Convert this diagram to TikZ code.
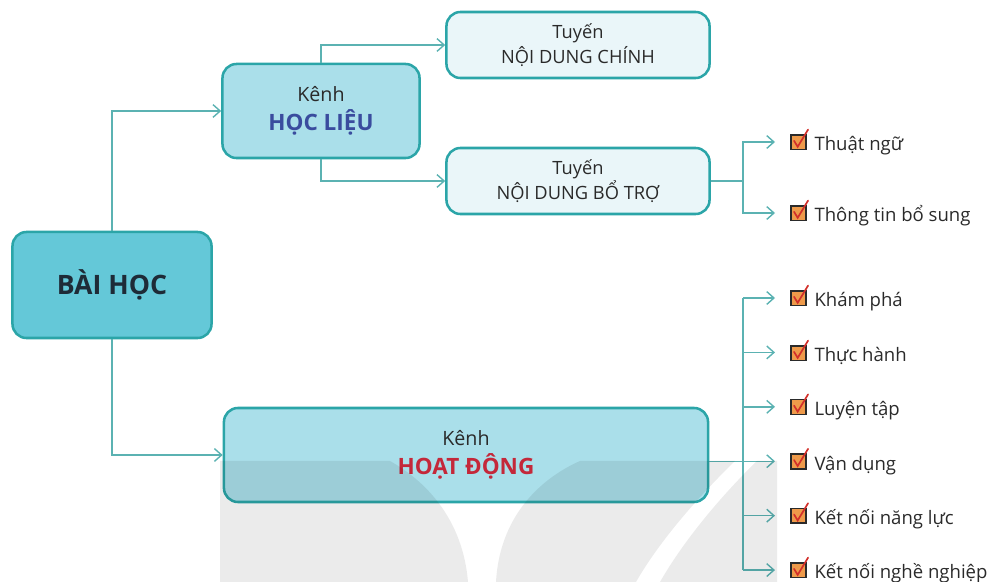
\documentclass[tikz,border=0pt]{standalone}
\usepackage{fontspec}
\setmainfont{Open Sans}
\usetikzlibrary{positioning,arrows.meta}

\definecolor{edgeteal}{HTML}{2BA5A8}
\definecolor{linkteal}{HTML}{5BB2B2}
\definecolor{baifill}{HTML}{64C8D8}
\definecolor{kenhfill}{HTML}{AADFEA}
\definecolor{tuyenfill}{HTML}{EAF6F9}
\definecolor{baitext}{HTML}{1E2B37}
\definecolor{hlblue}{HTML}{3A4C9E}
\definecolor{hdred}{HTML}{C4283A}
\definecolor{textdark}{HTML}{2A2A2A}
\definecolor{boxorange}{HTML}{EE9A4A}
\definecolor{tickred}{HTML}{D22F2A}

\newcommand{\tickbox}{\tikz[x=1cm,y=1cm,baseline=-0.03cm]{%
  \draw[line width=1.1pt, draw=textdark, fill=boxorange] (0,0) rectangle (0.37,0.37);
  \draw[tickred, line width=1.2pt, line cap=round] (0.07,0.22) -- (0.16,0.07) -- (0.42,0.5);}\hspace{4pt}}

\begin{document}
\begin{tikzpicture}[x=0.025cm, y=-0.025cm, node distance=1.36cm,
  box/.style={draw=edgeteal, line width=1.8pt, rounded corners=0.35cm, align=center, text=textdark, inner sep=0pt},
  kenh/.style={box, fill=kenhfill, minimum height=2.35cm, font=\fontsize{14pt}{21pt}\selectfont},
  tuyen/.style={box, fill=tuyenfill, minimum width=6.575cm, minimum height=1.65cm, font=\fontsize{13pt}{18pt}\selectfont},
  item/.style={anchor=west, inner xsep=0.38cm, inner ysep=1pt, text=textdark, font=\fontsize{13.2pt}{16pt}\selectfont},
  link/.style={draw=linkteal, line width=1pt},
  >={Straight Barb[length=1.8mm, width=3.2mm]}]

  \useasboundingbox (0,0) rectangle (1001,582);

  % main boxes
  \node[box, fill=baifill, text=baitext, minimum width=4.975cm, minimum height=2.65cm, font=\fontsize{19pt}{23pt}\selectfont\bfseries] (bai) at (112,285) {BÀI HỌC};
  \node[kenh, minimum width=4.925cm] (hl) at (321,111) {Kênh\\\textcolor{hlblue}{\fontsize{16pt}{21pt}\selectfont\bfseries HỌC LIỆU}};
  \node[kenh, minimum width=12.1cm] (hd) at (466,455) {Kênh\\\textcolor{hdred}{\fontsize{16pt}{21pt}\selectfont\bfseries HOẠT ĐỘNG}};
  \node[tuyen] (chinh) at (578,45) {Tuyến\\NỘI DUNG CHÍNH};
  \node[tuyen] (botro) at (578,181) {Tuyến\\NỘI DUNG BỔ TRỢ};

  % ghost joints
  \coordinate (jb) at (743,181);
  \coordinate (jh) at (743,462);

  % list items
  \node[item] (thuat) at (775,142) {\tickbox Thuật ngữ};
  \node[item] (ttbs) at (775,213) {\tickbox Thông tin bổ sung};
  \node[item] (kp) at (775,298) {\tickbox Khám phá};
  \node[item, below=of kp.west, anchor=west] (th) {\tickbox Thực hành};
  \node[item, below=of th.west, anchor=west] (lt) {\tickbox Luyện tập};
  \node[item, below=of lt.west, anchor=west] (vd) {\tickbox Vận dụng};
  \node[item, below=of vd.west, anchor=west] (nl) {\tickbox Kết nối năng lực};
  \node[item, below=of nl.west, anchor=west] (nn) {\tickbox Kết nối nghề nghiệp};

  % connectors
  \draw[link, ->] (bai.north) |- (hl.west);
  \draw[link, ->] (bai.south) |- (hd.west);
  \draw[link, ->] (hl.north) |- (chinh.west);
  \draw[link, ->] (hl.south) |- (botro.west);
  \draw[link] (botro.east) -- (jb);
  \draw[link, ->] (jb) |- (thuat.west);
  \draw[link, ->] (jb) |- (ttbs.west);
  \draw[link] (jh |- kp.west) -- (jh |- nn.west);
  \draw[link, ->] (hd.east |- vd.west) -- (vd.west);
  \draw[link, ->] (jh |- kp.west) -- (kp.west);
  \draw[link, ->] (jh |- th.west) -- (th.west);
  \draw[link, ->] (jh |- lt.west) -- (lt.west);
  \draw[link, ->] (jh |- nl.west) -- (nl.west);
  \draw[link, ->] (jh |- nn.west) -- (nn.west);

  % watermark
  \fill[black, fill opacity=0.08] (220,461) -- (390,461) .. controls (415,475) and (462,510) .. (468,582) -- (220,582) -- cycle;
  \fill[black, fill opacity=0.08] (580,461) -- (735,461) .. controls (700,495) and (660,540) .. (636,582) -- (496,582) .. controls (500,510) and (548,475) .. (580,461) -- cycle;
  \fill[black, fill opacity=0.08] (757,461) -- (777,461) -- (777,582) -- (660,582) .. controls (684,540) and (722,495) .. (757,461) -- cycle;

\end{tikzpicture}
\end{document}
